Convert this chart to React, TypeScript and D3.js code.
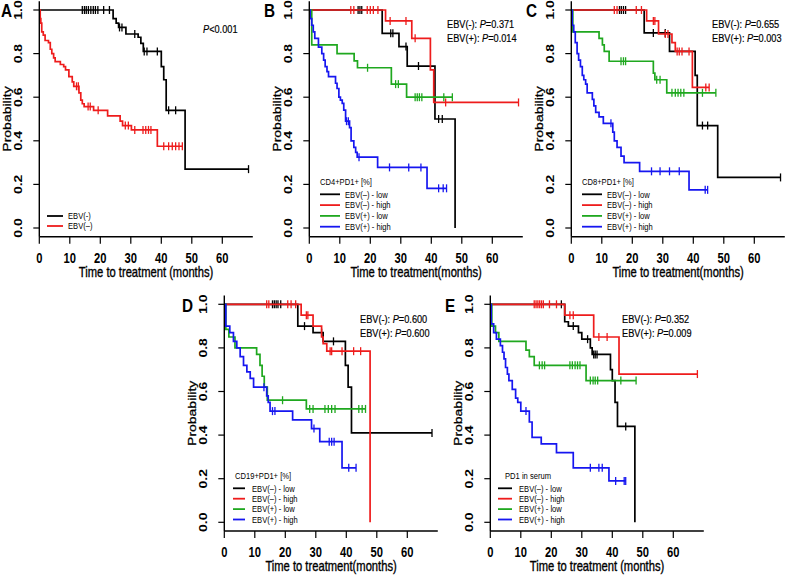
import React from "react";
import * as d3 from "d3";

type Step = [number, number];

// ---- panel A : EBV(-) vs EBV(+) ----
const aNegSteps: Step[] = [[24.2, 0.96], [25.2, 0.94], [26, 0.92], [28.4, 0.89], [32.4, 0.875], [33.3, 0.847], [34.1, 0.81], [40, 0.74], [40.8, 0.68], [41.6, 0.54], [47.8, 0.27]];
const aNegCensors = [14.1, 14.8, 15.4, 16.1, 16.9, 17.7, 18.4, 19.2, 21.1, 23, 26.3, 27.1, 31.3, 34.4, 35.3, 38.7, 42.4, 44.7, 68.6];
const aPosSteps: Step[] = [[0.3, 0.96], [0.5, 0.94], [0.8, 0.9], [1.3, 0.885], [1.9, 0.86], [3, 0.85], [3.6, 0.82], [4.1, 0.8], [4.7, 0.78], [5.2, 0.763], [6.9, 0.75], [8, 0.74], [8.6, 0.725], [9.7, 0.694], [10.8, 0.67], [11.3, 0.65], [13, 0.62], [13.6, 0.587], [14.1, 0.57], [14.7, 0.557], [17.8, 0.54], [22.4, 0.514], [26.5, 0.49], [27.3, 0.47], [30.2, 0.45], [38.7, 0.375]];
const aPosCensors = [12.2, 12.8, 16, 16.7, 19.3, 28.2, 29.2, 31.3, 34, 34.9, 35.8, 36.6, 40.8, 42.4, 43.6, 44.7, 45.8, 46.9];

// ---- panel B : CD4+PD1+ ----
const bNegLowSteps: Step[] = [[23.9, 0.893], [29.4, 0.832], [32.1, 0.743], [41.2, 0.5], [47.8, 0]];
const bNegLowCensors = [16, 16.6, 17.2, 26.7, 27.4, 31.7, 35.8, 42.4, 43.6];
const bNegHighSteps: Step[] = [[25, 0.95], [33.6, 0.87], [39.7, 0.725], [40.8, 0.576]];
const bNegHighCensors = [13.6, 14.6, 19, 20, 21, 22.5, 26.5, 31.7, 34.7, 44.7, 68.6];
const bPosLowSteps: Step[] = [[0.8, 0.84], [9.1, 0.8], [14.7, 0.767], [15.8, 0.735], [26.9, 0.66], [31.9, 0.6]];
const bPosLowCensors = [19.1, 28.3, 29.2, 34.7, 35.4, 36.1, 36.9, 44.1, 46.9];
const bPosHighSteps: Step[] = [[0.3, 0.96], [0.8, 0.93], [1.3, 0.9], [1.8, 0.87], [3, 0.83], [4.1, 0.8], [4.7, 0.77], [5.2, 0.74], [5.8, 0.717], [6.3, 0.694], [8.6, 0.664], [9.1, 0.64], [9.7, 0.6], [10.2, 0.587], [10.8, 0.572], [11.3, 0.541], [11.9, 0.49], [13.2, 0.46], [13.7, 0.4], [14.6, 0.37], [15.2, 0.347], [15.7, 0.325], [22.4, 0.278], [38.6, 0.182]];
const bPosHighCensors = [12.2, 12.8, 16.3, 26.3, 32.6, 36.6, 42.4, 43.9, 45];

// ---- panel C : CD8+PD1+ ----
const cNegLowSteps: Step[] = [[23.9, 0.895], [32.2, 0.81], [40.6, 0.7], [41.3, 0.47], [48, 0.232]];
const cNegLowCensors = [15.8, 16.4, 17.1, 17.8, 26.9, 30.8, 43, 44.7, 68.6];
const cNegHighSteps: Step[] = [[24.7, 0.95], [28.6, 0.89], [33, 0.85], [34.1, 0.81], [39.7, 0.645]];
const cNegHighCensors = [14.1, 15, 21.3, 23, 26.9, 27.4, 30.8, 31.7, 34.7, 35.4, 36.3, 38.6, 44.1, 45.2];
const cPosLowSteps: Step[] = [[0.5, 0.9], [9.1, 0.87], [10.2, 0.84], [10.8, 0.81], [12.4, 0.765], [26.9, 0.71], [27.4, 0.68], [31.3, 0.62]];
const cPosLowCensors = [16.3, 17.1, 17.8, 28, 29.1, 33, 34.1, 35, 35.9, 36.9, 43, 47.4];
const cPosHighSteps: Step[] = [[0.3, 0.93], [0.8, 0.9], [1.3, 0.85], [1.9, 0.8], [2.4, 0.77], [3, 0.74], [3.6, 0.7], [4.1, 0.68], [4.7, 0.66], [5.2, 0.62], [6.9, 0.59], [7.4, 0.56], [8, 0.53], [9.1, 0.51], [10.5, 0.48], [13.6, 0.44], [14.1, 0.4], [15, 0.37], [16.3, 0.33], [17.3, 0.3], [22.4, 0.26], [38.6, 0.175]];
const cPosHighCensors = [13, 26.3, 29.1, 32.2, 35.4, 43.9, 44.7];

// ---- panel D : CD19+PD1+ ----
const dNegLowSteps: Step[] = [[24.1, 0.9], [29.1, 0.87], [32.4, 0.83], [39.7, 0.72], [40.6, 0.62], [41.7, 0.41]];
const dNegLowCensors = [15.8, 16.4, 17, 17.6, 18.5, 26.3, 31.9, 35.8, 68.1];
const dNegHighSteps: Step[] = [[25.2, 0.95], [29.1, 0.9], [31.9, 0.85], [32.4, 0.82], [33.6, 0.785], [47.8, 0]];
const dNegHighCensors = [13.9, 14.6, 20.8, 21.9, 23.4, 26.9, 27.4, 34.7, 35.2, 38.6, 42.4, 44.7];
const dPosLowSteps: Step[] = [[0.5, 0.885], [1.5, 0.85], [3.5, 0.8], [10.6, 0.77], [11.7, 0.72], [12.4, 0.67], [13.1, 0.62], [14.1, 0.56], [26.9, 0.52]];
const dPosLowCensors = [19.1, 28, 29.1, 33, 34.1, 35.2, 36.3, 44.1, 45.2, 46.3];
const dPosHighSteps: Step[] = [[0.5, 0.9], [1.8, 0.87], [3, 0.83], [4.1, 0.8], [5.2, 0.76], [6.3, 0.72], [7.4, 0.69], [8.5, 0.66], [9.6, 0.62], [13.9, 0.58], [14.4, 0.55], [15, 0.51], [22.4, 0.47], [28.6, 0.43], [31.3, 0.37], [38.6, 0.25]];
const dPosHighCensors = [13, 15.8, 16.6, 29.4, 34.4, 35.2, 36, 40.8, 43.2];

// ---- panel E : PD1 in serum ----
const eNegLowSteps: Step[] = [[24.4, 0.92], [25.6, 0.9], [28.9, 0.87], [30, 0.84], [32.8, 0.8], [33.4, 0.77], [39.4, 0.7], [40, 0.65], [40.9, 0.55], [41.7, 0.44], [47.4, 0]];
const eNegLowCensors = [23.3, 27.2, 31.9, 33.9, 34.4, 35, 44.4];
const eNegHighSteps: Step[] = [[24.4, 0.95], [33.9, 0.85], [42.2, 0.68]];
const eNegHighCensors = [14.4, 15, 15.6, 16.2, 16.8, 17.4, 19.4, 21.7, 26.1, 27.2, 35.6, 38.3, 67.9];
const ePosLowSteps: Step[] = [[0.5, 0.9], [1.7, 0.87], [2.8, 0.83], [11.7, 0.79], [12.8, 0.76], [14.4, 0.72], [31.4, 0.65]];
const ePosLowCensors = [16.1, 17, 17.8, 26.1, 26.9, 27.8, 28.6, 29.4, 32.8, 33.7, 34.4, 35.2, 42.8, 47.8];
const ePosHighSteps: Step[] = [[0.3, 0.91], [1.1, 0.87], [2, 0.84], [3.3, 0.81], [4, 0.78], [4.5, 0.75], [5, 0.71], [5.6, 0.68], [6.1, 0.65], [7.2, 0.61], [8.3, 0.57], [9, 0.55], [10, 0.51], [12.8, 0.46], [13.7, 0.39], [16.7, 0.36], [21.7, 0.32], [27.2, 0.25], [38.9, 0.19]];
const ePosHighCensors = [11.7, 32.8, 35.6, 36.7, 41.1, 43.9, 44.4];

const yTicks = [0, 0.2, 0.4, 0.6, 0.8, 1.0];
const xTicks = [0, 10, 20, 30, 40, 50, 60];
const groupLabels = ["EBV(–) - low", "EBV(–) - high", "EBV(+) - low", "EBV(+) - high"];
const colors = ["#000000", "#ee1c1c", "#1fa81f", "#1616f0"];

const FONT = "'Liberation Sans', Arial, sans-serif";
const SQ = 0.8; // the picture is squeezed horizontally

type Series = { steps: Step[]; censors: number[]; color: string };

const mk = (pairs: [Step[], number[]][]): Series[] =>
  pairs.map(([steps, censors], i) => ({ steps, censors, color: colors[i] }));

const panels = [
  {
    letter: "A", x0: 39.3, y1: 10, letterX: 1, letterY: 17,
    pX: 203, pY: [33], pLines: [["", "<0.001"]],
    xLabel: "Time to treatment (months)",
    series: [
      { steps: aNegSteps, censors: aNegCensors, color: colors[0] },
      { steps: aPosSteps, censors: aPosCensors, color: colors[1] },
    ],
    legend: { title: "", tx: 0, ty: 0, lx1: 47, lx2: 63, textX: 68, ly: 216, gap: 10, labels: ["EBV(-)", "EBV(–)"] },
  },
  {
    letter: "B", x0: 309.3, y1: 10, letterX: 264, letterY: 17,
    pX: 447, pY: [28, 42], pLines: [["EBV(-): ", "=0.371"], ["EBV(+): ", "=0.014"]],
    xLabel: "Time to treatment(months)",
    series: mk([[bNegLowSteps, bNegLowCensors], [bNegHighSteps, bNegHighCensors], [bPosLowSteps, bPosLowCensors], [bPosHighSteps, bPosHighCensors]]),
    legend: { title: "CD4+PD1+ [%]", tx: 320, ty: 185, lx1: 320, lx2: 340, textX: 345, ly: 194.3, gap: 10.8, labels: groupLabels },
  },
  {
    letter: "C", x0: 571.3, y1: 10, letterX: 526, letterY: 17,
    pX: 712, pY: [28, 42], pLines: [["EBV(-): ", "=0.655"], ["EBV(+): ", "=0.003"]],
    xLabel: "Time to treatment(months)",
    series: mk([[cNegLowSteps, cNegLowCensors], [cNegHighSteps, cNegHighCensors], [cPosLowSteps, cPosLowCensors], [cPosHighSteps, cPosHighCensors]]),
    legend: { title: "CD8+PD1+ [%]", tx: 582, ty: 185, lx1: 582, lx2: 602, textX: 607, ly: 194.3, gap: 10.8, labels: groupLabels },
  },
  {
    letter: "D", x0: 224.3, y1: 304.3, letterX: 182, letterY: 312,
    pX: 360, pY: [323, 337], pLines: [["EBV(-): ", "=0.600"], ["EBV(+): ", "=0.600"]],
    xLabel: "Time to treatment(months)",
    series: mk([[dNegLowSteps, dNegLowCensors], [dNegHighSteps, dNegHighCensors], [dPosLowSteps, dPosLowCensors], [dPosHighSteps, dPosHighCensors]]),
    legend: { title: "CD19+PD1+ [%]", tx: 235, ty: 479, lx1: 233, lx2: 245, textX: 252, ly: 488.3, gap: 10.4, labels: groupLabels },
  },
  {
    letter: "E", x0: 490.3, y1: 304.3, letterX: 445, letterY: 312,
    pX: 622, pY: [323, 337], pLines: [["EBV(-): ", "=0.352"], ["EBV(+): ", "=0.009"]],
    xLabel: "Time to treatment (months)",
    series: mk([[eNegLowSteps, eNegLowCensors], [eNegHighSteps, eNegHighCensors], [ePosLowSteps, ePosLowCensors], [ePosHighSteps, ePosHighCensors]]),
    legend: { title: "PD1 in serum", tx: 505, ty: 479, lx1: 498, lx2: 512, textX: 519, ly: 488.3, gap: 10.4, labels: groupLabels },
  },
];

const survAt = (steps: Step[], t: number) => {
  let s = 1;
  for (const [tt, v] of steps) if (tt <= t) s = v;
  return s;
};

function Panel({ p }: { p: (typeof panels)[number] }) {
  const plotH = 218;
  const x = d3.scaleLinear().domain([0, 70]).range([p.x0, p.x0 + 213.5]);
  const y = d3.scaleLinear().domain([0, 1]).range([p.y1 + plotH, p.y1]);
  const yAxisBottom = y(-0.04);
  const yAxisTop = y(1.04);
  const line = d3.line<Step>().x(d => x(d[0])).y(d => y(d[1])).curve(d3.curveStepAfter);

  return (
    <g>
      {/* curves */}
      {p.series.map((s, i) => {
        const lastStep = s.steps[s.steps.length - 1];
        const end = Math.max(lastStep[0], d3.max(s.censors) ?? 0);
        const pts: Step[] = [[0, 1], ...s.steps, [end, survAt(s.steps, end)]];
        return (
          <g key={i}>
            <path d={line(pts) ?? ""} fill="none" stroke={s.color} strokeWidth={1.7} />
            {s.censors.map((c, j) => (
              <line key={j} x1={x(c)} x2={x(c)} y1={y(survAt(s.steps, c)) - 4} y2={y(survAt(s.steps, c)) + 4}
                stroke={s.color} strokeWidth={1.3} />
            ))}
          </g>
        );
      })}

      {/* axes, R style L box */}
      <line x1={p.x0} x2={p.x0} y1={yAxisTop} y2={yAxisBottom} stroke="#000" strokeWidth={1.4} />
      <line x1={p.x0} x2={x(70)} y1={yAxisBottom} y2={yAxisBottom} stroke="#000" strokeWidth={1.4} />
      {yTicks.map(t => (
        <g key={t}>
          <line x1={p.x0 - 6} x2={p.x0} y1={y(t)} y2={y(t)} stroke="#000" strokeWidth={1.2} />
          <text transform={`translate(${p.x0 - 17.3},${y(t)}) rotate(-90) scale(1,${SQ})`} textAnchor="middle"
            fontSize={14} fontWeight="bold" fontFamily={FONT}>{t.toFixed(1)}</text>
        </g>
      ))}
      {xTicks.map(t => (
        <g key={t}>
          <line x1={x(t)} x2={x(t)} y1={yAxisBottom} y2={yAxisBottom + 7} stroke="#000" strokeWidth={1.2} />
          <text transform={`translate(${x(t)},${p.y1 + plotH + 35}) scale(${SQ},1)`} textAnchor="middle"
            fontSize={14} fontWeight="bold" fontFamily={FONT}>{t}</text>
        </g>
      ))}
      <text transform={`translate(${x(35)},${p.y1 + plotH + 49}) scale(${SQ},1)`} textAnchor="middle"
        fontSize={14} fontFamily={FONT} stroke="#000" strokeWidth={0.35}>{p.xLabel}</text>
      <text transform={`translate(${p.x0 - 28},${y(0.5)}) rotate(-90) scale(1,${SQ})`} textAnchor="middle"
        fontSize={14} fontFamily={FONT} stroke="#000" strokeWidth={0.35}>Probability</text>

      {/* panel letter and p values */}
      <text transform={`translate(${p.letterX},${p.letterY}) scale(0.85,1)`} fontSize={18} fontWeight="bold"
        fontFamily={FONT}>{p.letter}</text>
      {p.pLines.map((l, i) => (
        <text key={i} transform={`translate(${p.pX},${p.pY[i]}) scale(${SQ},1)`} fontSize={11.5} fontFamily={FONT}
          stroke="#000" strokeWidth={0.2}>
          {l[0]}<tspan fontStyle="italic">P</tspan>{l[1]}
        </text>
      ))}

      {/* legend */}
      {p.legend.title && (
        <text transform={`translate(${p.legend.tx},${p.legend.ty}) scale(${SQ},1)`} fontSize={9.5} fontFamily={FONT}>
          {p.legend.title}
        </text>
      )}
      {p.legend.labels.map((lab, i) => {
        const ly = p.legend.ly + i * p.legend.gap;
        return (
          <g key={lab + i}>
            <line x1={p.legend.lx1} x2={p.legend.lx2} y1={ly} y2={ly} stroke={colors[i]} strokeWidth={1.8} />
            <text transform={`translate(${p.legend.textX},${ly + 3.3}) scale(${SQ},1)`} fontSize={9.5} fontFamily={FONT}>
              {lab}
            </text>
          </g>
        );
      })}
    </g>
  );
}

export default function App() {
  return (
    <svg width={788} height={576} style={{ position: "absolute", left: 0, top: 0, background: "#fff" }}>
      {panels.map(p => <Panel key={p.letter} p={p} />)}
    </svg>
  );
}
